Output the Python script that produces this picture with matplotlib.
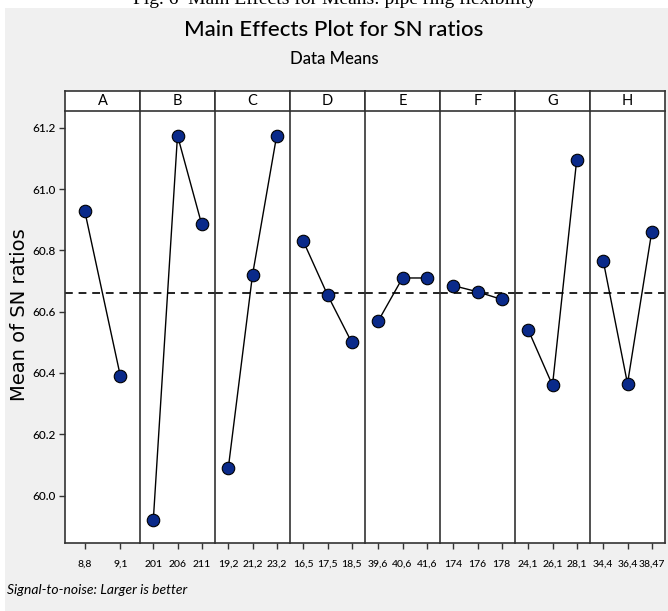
import numpy as np
import matplotlib.pyplot as plt
from matplotlib.patches import Rectangle

# factors and their levels
factors = ['A', 'B', 'C', 'D', 'E', 'F', 'G', 'H']
levels = [
    ['8,8', '9,1'],
    ['201', '206', '211'],
    ['19,2', '21,2', '23,2'],
    ['16,5', '17,5', '18,5'],
    ['39,6', '40,6', '41,6'],
    ['174', '176', '178'],
    ['24,1', '26,1', '28,1'],
    ['34,4', '36,4', '38,47'],
]
# mean SN ratios per level
sn_means = [
    [60.93, 60.39],
    [59.92, 61.175, 60.885],
    [60.09, 60.72, 61.175],
    [60.83, 60.655, 60.50],
    [60.57, 60.71, 60.71],
    [60.685, 60.665, 60.64],
    [60.54, 60.36, 61.095],
    [60.765, 60.365, 60.86],
]
y_ticks = [60.0, 60.2, 60.4, 60.6, 60.8, 61.0, 61.2]

grand_mean = np.mean(sn_means[1])

W, H = 668, 611
fig = plt.figure(figsize=(W / 100, H / 100), dpi=100, facecolor='white')

# gray backdrop like the screenshot
fig.patches.append(Rectangle((5 / W, 0), 1, 1 - 8 / H, transform=fig.transFigure,
                             facecolor='#f0f0f0', edgecolor='none', zorder=-10))

narrow = ['Lato', 'DejaVu Sans']

# cut-off caption at the top
fig.text(0.5, 1 + 1 / H, 'Fig. 6  Main Effects for Means: pipe ring flexibility',
         ha='center', va='center', fontsize=14, family='Liberation Serif')

fig.text(0.5, 1 - 30 / H, 'Main Effects Plot for SN ratios', ha='center', va='center',
         fontsize=16, family=narrow, weight='medium')
fig.text(0.5, 1 - 59 / H, 'Data Means', ha='center', va='center',
         fontsize=12, family=narrow, weight='medium')
fig.text(20 / W, 1 - 315 / H, 'Mean of SN ratios', rotation=90, ha='center', va='center',
         fontsize=14, family='DejaVu Sans')
fig.text(7 / W, 1 - 590 / H, 'Signal-to-noise: Larger is better', ha='left', va='center',
         fontsize=10, family=narrow, style='italic')

left, right = 65, 665
top_h, top_p, bottom = 91, 111, 543
pw = (right - left) / len(factors)
ymin, ymax = 59.845, 61.255

for i, (f, lv, vals) in enumerate(zip(factors, levels, sn_means)):
    x0 = (left + i * pw) / W
    ax = fig.add_axes([x0, 1 - bottom / H, pw / W, (bottom - top_p) / H])
    n = len(lv)
    x = np.arange(1, n + 1)
    ax.plot(x, vals, color='black', lw=1, zorder=2)
    ax.plot(x, vals, 'o', ms=9, mfc='#0a2a8a', mec='black', mew=0.8, zorder=3)
    ax.axhline(grand_mean, color='#222222', ls=(0, (4, 3)), lw=1.4, zorder=1)
    ax.set_xlim(0.45, n + 0.55)
    ax.set_ylim(ymin, ymax)
    ax.set_xticks(x)
    ax.set_xticklabels(lv, family=narrow, fontsize=7.5, weight='medium')
    ax.tick_params(axis='x', length=4, width=1, pad=8, color='#333333')
    for s in ax.spines.values():
        s.set_color('#333333')
        s.set_linewidth(1.2)
    ax.spines['top'].set_visible(False)
    if i == 0:
        ax.set_yticks(y_ticks)
        ax.set_yticklabels([f'{v:.1f}' for v in y_ticks], family=narrow, fontsize=8.5,
                           weight='medium')
        ax.tick_params(axis='y', length=4, width=1, pad=3, color='#333333')
    else:
        ax.set_yticks([])
    if i != len(factors) - 1:
        ax.spines['right'].set_visible(False)

    # header strip
    hx = fig.add_axes([x0, 1 - top_p / H, pw / W, (top_p - top_h) / H])
    hx.set_xticks([])
    hx.set_yticks([])
    for s in hx.spines.values():
        s.set_color('#333333')
        s.set_linewidth(1.2)
    hx.text(0.5, 0.5, f, ha='center', va='center', fontsize=10.5, family=narrow,
            transform=hx.transAxes)

fig.savefig('out.png', dpi=100, facecolor=fig.get_facecolor())
